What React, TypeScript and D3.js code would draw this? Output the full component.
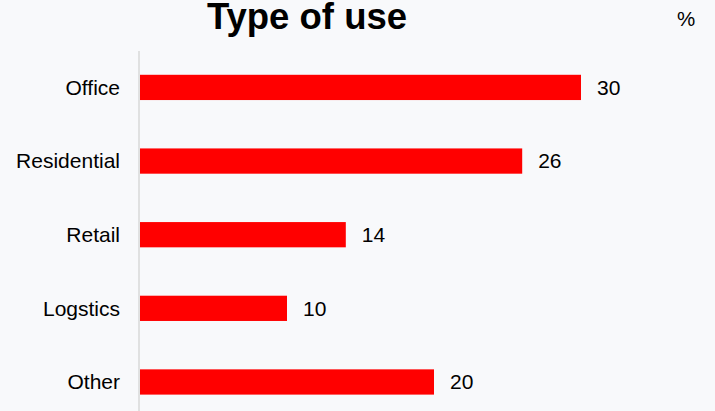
import React from "react";
import * as d3 from "d3";

const categories = ["Office", "Residential", "Retail", "Logstics", "Other"];
const values = [30, 26, 14, 10, 20];
const title = "Type of use";
const unit = "%";

const W = 715;
const H = 411;
const FONT = "'Liberation Sans', Arial, sans-serif";

export default function App() {
  const x = d3.scaleLinear().domain([0, 30]).range([140, 581]);
  const y = d3
    .scaleBand<string>()
    .domain(categories)
    .range([50.6, 418.8])
    .paddingInner(0.657)
    .paddingOuter(0.3285);

  return (
    <div style={{ position: "fixed", left: 0, top: 0 }}>
      <svg width={W} height={H} style={{ display: "block", background: "#f8f9fb" }}>
        <rect x={0} y={0} width={W} height={H} fill="#f8f9fb" />
        <text
          x={307}
          y={28.5}
          textAnchor="middle"
          fontFamily={FONT}
          fontWeight="bold"
          fontSize={36.5}
          fill="#000"
        >
          {title}
        </text>
        <text x={686} y={26} textAnchor="middle" fontFamily={FONT} fontSize={20.5} fill="#000">
          {unit}
        </text>
        <line x1={139} x2={139} y1={51} y2={H} stroke="#d9d9d9" strokeWidth={1.5} />
        {categories.map((c, i) => {
          const yc = (y(c) as number) + y.bandwidth() / 2;
          return (
            <g key={c}>
              <rect
                x={x(0)}
                y={y(c)}
                width={x(values[i]) - x(0)}
                height={y.bandwidth()}
                fill="#ff0000"
              />
              <text
                x={120}
                y={yc}
                dy="0.35em"
                textAnchor="end"
                fontFamily={FONT}
                fontSize={21}
                fill="#000"
              >
                {c}
              </text>
              <text
                x={x(values[i]) + 16}
                y={yc}
                dy="0.35em"
                textAnchor="start"
                fontFamily={FONT}
                fontSize={21}
                fill="#000"
              >
                {values[i]}
              </text>
            </g>
          );
        })}
      </svg>
    </div>
  );
}
